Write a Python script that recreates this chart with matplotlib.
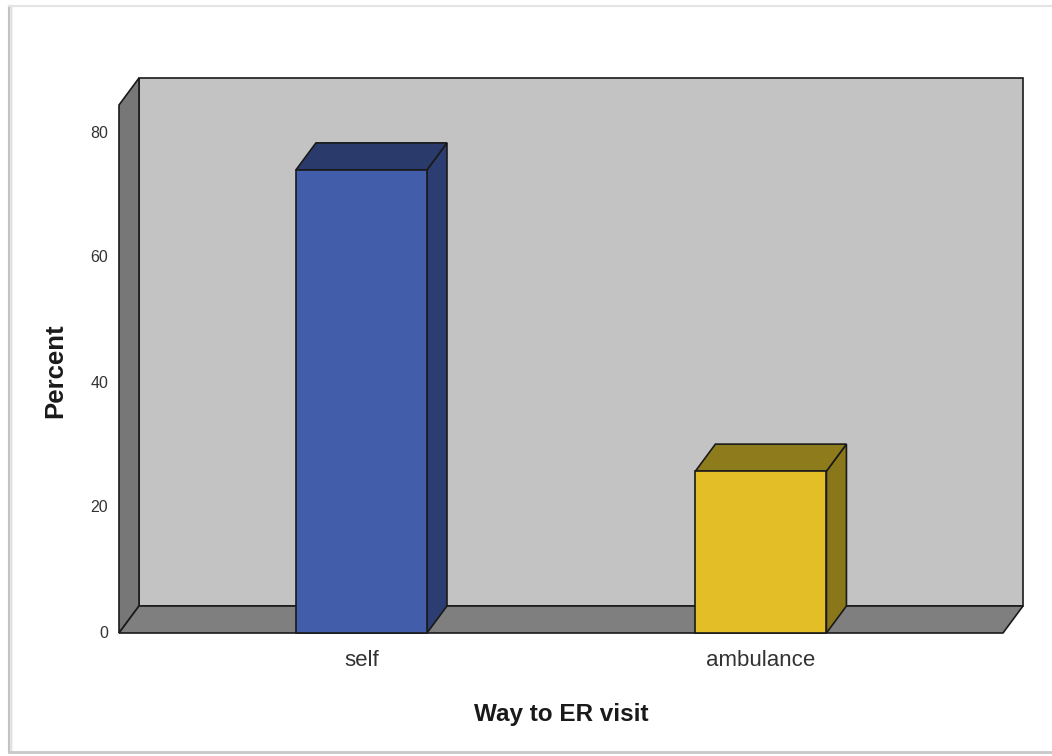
import matplotlib
matplotlib.use("Agg")
import matplotlib.pyplot as plt
from matplotlib.patches import Polygon, Rectangle
from matplotlib.lines import Line2D

plt.rcParams['font.family'] = ['Liberation Sans', 'DejaVu Sans']

# Data
categories = ["self", "ambulance"]
percents = [74.1, 25.9]
y_ticks = [0, 20, 40, 60, 80]
x_label = "Way to ER visit"
y_label = "Percent"

# Styling
front_colors = ["#425EAB", "#E3BE26"]
top_colors = ["#2A3A6B", "#8E7B1C"]
side_colors = ["#2C3D71", "#8A7719"]
wall_back = "#C3C3C3"
wall_left = "#777777"
floor_col = "#7F7F7F"
edge = "#1a1a1a"

W, H = 1052, 756
fig = plt.figure(figsize=(W / 100, H / 100), dpi=100)
fig.patch.set_facecolor("white")

# Outer frame with a soft grey border
for off, a in [(0, 0.9), (1.5, 0.35), (3, 0.15)]:
    fig.add_artist(Line2D([(9 + off) / W, (9 + off) / W], [1 - 6 / H, 1 - 752 / H],
                          transform=fig.transFigure, color="#bdbdbd", lw=1.5, alpha=a))
fig.add_artist(Line2D([9 / W, 1], [1 - 6 / H, 1 - 6 / H], transform=fig.transFigure,
                      color="#e4e4e4", lw=1.5))
fig.add_artist(Line2D([9 / W, 1], [1 - 752 / H, 1 - 752 / H], transform=fig.transFigure,
                      color="#c8c8c8", lw=2))

# Front plane of the chart
x0_px, x1_px, ytop_px, y0_px = 119, 1003, 105, 633
ax = fig.add_axes([x0_px / W, 1 - y0_px / H, (x1_px - x0_px) / W, (y0_px - ytop_px) / H])
xmin, xmax = -0.607, 1.606
ymax = (y0_px - ytop_px) / 6.25
ax.set_xlim(xmin, xmax)
ax.set_ylim(0, ymax)
ax.axis("off")

# depth offset in data units
px_x = (xmax - xmin) / (x1_px - x0_px)
px_y = ymax / (y0_px - ytop_px)
dx, dy = 20 * px_x, 27 * px_y

kw = dict(clip_on=False, lw=1.2, edgecolor=edge, joinstyle="miter")

# back wall
ax.add_patch(Polygon([(xmin + dx, dy), (xmax + dx, dy), (xmax + dx, ymax + dy), (xmin + dx, ymax + dy)],
                     facecolor=wall_back, **kw))
# left wall
ax.add_patch(Polygon([(xmin, 0), (xmin, ymax), (xmin + dx, ymax + dy), (xmin + dx, dy)],
                     facecolor=wall_left, **kw))
# floor
ax.add_patch(Polygon([(xmin, 0), (xmax, 0), (xmax + dx, dy), (xmin + dx, dy)],
                     facecolor=floor_col, **kw))

# 3D bars: side, top, then front face
bw = 0.328
for i, v in enumerate(percents):
    l, r = i - bw / 2, i + bw / 2
    ax.add_patch(Polygon([(r, 0), (r + dx, dy), (r + dx, v + dy), (r, v)],
                         facecolor=side_colors[i], **kw))
    ax.add_patch(Polygon([(l, v), (r, v), (r + dx, v + dy), (l + dx, v + dy)],
                         facecolor=top_colors[i], **kw))
    ax.add_patch(Rectangle((l, 0), bw, v, facecolor=front_colors[i], **kw))

# tick labels
for t in y_ticks:
    ax.text(xmin - 11 * px_x, t, str(t), ha="right", va="center", fontsize=11.5,
            color="#333333")
for i, c in enumerate(categories):
    ax.text(i, -28 * px_y, c, ha="center", va="center", fontsize=16, color="#333333")

# axis titles
fig.text(561 / W, 1 - 715 / H, x_label, ha="center", va="center",
         fontsize=17.5, fontweight="bold", color="#1a1a1a")
fig.text(55 / W, 1 - 371 / H, y_label, ha="center", va="center",
         rotation=90, fontsize=18.5, fontweight="bold", color="#1a1a1a")

fig.savefig("out.png", dpi=100)
